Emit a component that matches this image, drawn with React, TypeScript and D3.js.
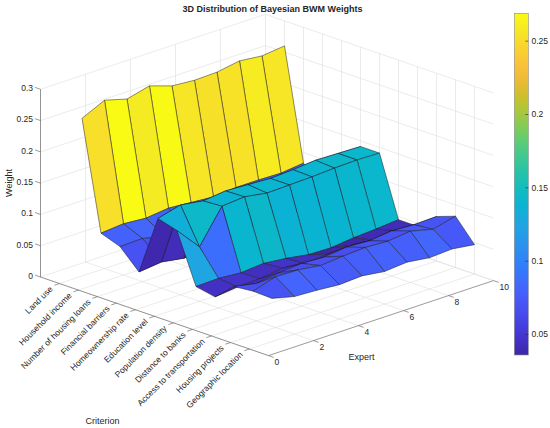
import React from 'react';
import * as d3 from 'd3';

// criteria along one floor axis, experts along the other
const criteria = [
  'Land use',
  'Household income',
  'Number of housing loans',
  'Financial barriers',
  'Homeownership rate',
  'Education level',
  'Population density',
  'Distance to banks',
  'Access to transportation',
  'Housing projects',
  'Geographic location',
];
const experts = [1, 2, 3, 4, 5, 6, 7, 8, 9, 10];

// weight of each criterion, one value per expert (1..10)
const landUse = [0.252, 0.269, 0.259, 0.268, 0.256, 0.253, 0.254, 0.26, 0.256, 0.26];
const householdIncome = [0.079, 0.082, 0.079, 0.083, 0.08, 0.077, 0.08, 0.08, 0.079, 0.083];
const housingLoans = [0.068, 0.069, 0.06, 0.055, 0.05, 0.045, 0.04, 0.04, 0.045, 0.05];
const financialBarriers = [0.038, 0.042, 0.036, 0.04, 0.045, 0.05, 0.055, 0.05, 0.045, 0.04];
const homeownership = [0.134, 0.1435, 0.138, 0.142, 0.14, 0.138, 0.14, 0.143, 0.142, 0.141];
const education = [0.125, 0.087, 0.14, 0.143, 0.137, 0.138, 0.139, 0.141, 0.142, 0.141];
const populationDensity = [0.046, 0.047, 0.044, 0.047, 0.043, 0.037, 0.036, 0.04, 0.042, 0.045];
const distanceBanks = [0.04, 0.044, 0.045, 0.05, 0.045, 0.048, 0.05, 0.047, 0.05, 0.045];
const transportation = [0.067, 0.06, 0.065, 0.068, 0.066, 0.07, 0.068, 0.072, 0.07, 0.071];
const housingProjects = [0.07, 0.081, 0.08, 0.075, 0.078, 0.08, 0.078, 0.082, 0.073, 0.082];
const geoLocation = [0.069, 0.06, 0.058, 0.055, 0.057, 0.052, 0.055, 0.05, 0.052, 0.047];

const expertTicks = [0, 2, 4, 6, 8, 10];
const weightTicks = [0, 0.05, 0.1, 0.15, 0.2, 0.25, 0.3];
const colorbarTicks = [0.05, 0.1, 0.15, 0.2, 0.25];

// parula (sampled)
const parula = [
  [0.2422, 0.1504, 0.6603], [0.2706, 0.2147, 0.8364], [0.2813, 0.3006, 0.9414],
  [0.2699, 0.3892, 0.9906], [0.1963, 0.4847, 0.9892], [0.1687, 0.5703, 0.9359],
  [0.1248, 0.6459, 0.8883], [0.0297, 0.7082, 0.8163], [0.0964, 0.75, 0.712],
  [0.2161, 0.7843, 0.5923], [0.3909, 0.8029, 0.4354], [0.6174, 0.7876, 0.2612],
  [0.8203, 0.7498, 0.1535], [0.9728, 0.7298, 0.2394], [0.9892, 0.8136, 0.1885],
  [0.9597, 0.9135, 0.1423], [0.9769, 0.9839, 0.0805],
];
const parulaPos = [0, 4, 8, 12, 16, 20, 24, 28, 32, 36, 40, 44, 48, 52, 56, 60, 63].map((i) => i / 63);

const FONT = '"Liberation Sans", Arial, Helvetica, sans-serif';
const TXT = '#262626';

export default function App() {
  const weights = [
    landUse, householdIncome, housingLoans, financialBarriers, homeownership, education,
    populationDensity, distanceBanks, transportation, housingProjects, geoLocation,
  ];
  const all = weights.flat();
  const vmin = d3.min(all) as number;
  const vmax = d3.max(all) as number;

  const colorScale = d3
    .scaleLinear<string>()
    .domain(parulaPos.map((p) => vmin + p * (vmax - vmin)))
    .range(parula.map((c) => d3.rgb(c[0] * 255, c[1] * 255, c[2] * 255).formatHex()))
    .interpolate(d3.interpolateRgb);

  // orthographic projection of the 3D box
  const origin = [40.5, 277];
  const cX = d3.scaleLinear().domain([0, 12]).range([0, 228]);
  const cY = d3.scaleLinear().domain([0, 12]).range([0, 78.6]);
  const eX = d3.scaleLinear().domain([0, 10]).range([0, 225]);
  const eY = d3.scaleLinear().domain([0, 10]).range([0, -75]);
  const zY = d3.scaleLinear().domain([0, 0.3]).range([0, -187.7]);
  const proj = (c: number, e: number, z: number): [number, number] => [
    origin[0] + cX(c) + eX(e),
    origin[1] + cY(c) + eY(e) + zY(z),
  ];
  const line = d3.line();
  const seg = (a: [number, number], b: [number, number]) => line([a, b]) as string;

  // grid lines on the floor and back walls
  const grid: string[] = [];
  criteria.forEach((_, i) => {
    grid.push(seg(proj(i + 1, 0, 0), proj(i + 1, 10, 0)));
    grid.push(seg(proj(i + 1, 10, 0), proj(i + 1, 10, 0.3)));
  });
  expertTicks.forEach((e) => {
    grid.push(seg(proj(0, e, 0), proj(12, e, 0)));
    grid.push(seg(proj(0, e, 0), proj(0, e, 0.3)));
  });
  weightTicks.forEach((z) => {
    grid.push(seg(proj(0, 0, z), proj(0, 10, z)));
    grid.push(seg(proj(0, 10, z), proj(12, 10, z)));
  });

  // surface faces, painted back to front
  const faces: any[] = [];
  for (let i = 0; i < criteria.length - 1; i++) {
    for (let j = experts.length - 2; j >= 0; j--) {
      const pts = [
        proj(i + 1, experts[j], weights[i][j]),
        proj(i + 2, experts[j], weights[i + 1][j]),
        proj(i + 2, experts[j + 1], weights[i + 1][j + 1]),
        proj(i + 1, experts[j + 1], weights[i][j + 1]),
      ];
      faces.push({ key: `${i}-${j}`, d: line(pts as any) + 'Z', fill: colorScale(weights[i][j]) });
    }
  }

  // colorbar
  const cb = { x: 514.3, w: 14, top: 13.3, bottom: 355 };
  const cbScale = d3.scaleLinear().domain([vmin, vmax]).range([cb.bottom, cb.top]);
  const gradStops = d3.range(0, 1.0001, 1 / 32);

  const axisCol = '#6e6e6e';
  const zTickDir = [-5.4, -1.9];
  const cTickDir = [-5.2, 1.7];
  const eTickDir = [5.2, 1.8];

  return (
    <svg width={550} height={428} style={{ position: 'absolute', left: 0, top: 0, background: '#fff' }} fontFamily={FONT}>
      <defs>
        <linearGradient id="cbGrad" x1="0" x2="0" y1="1" y2="0">
          {gradStops.map((t) => (
            <stop key={t} offset={`${t * 100}%`} stopColor={colorScale(vmin + t * (vmax - vmin))} />
          ))}
        </linearGradient>
      </defs>
      <rect width={550} height={428} fill="#fff" />

      <g className="grid" stroke="#dedede" strokeWidth={0.6} fill="none">
        {grid.map((d, k) => <path key={k} d={d} />)}
      </g>

      <g className="axes" stroke={axisCol} strokeWidth={0.7} fill="none">
        <path d={seg(proj(0, 0, 0), proj(0, 0, 0.3))} />
        <path d={seg(proj(0, 0, 0), proj(12, 0, 0))} />
        <path d={seg(proj(12, 0, 0), proj(12, 10, 0))} />
        {weightTicks.map((z) => {
          const p = proj(0, 0, z);
          return <path key={z} d={seg(p, [p[0] + zTickDir[0], p[1] + zTickDir[1]])} />;
        })}
        {criteria.map((_, i) => {
          const p = proj(i + 1, 0, 0);
          return <path key={i} d={seg(p, [p[0] + cTickDir[0], p[1] + cTickDir[1]])} />;
        })}
        {expertTicks.map((e) => {
          const p = proj(12, e, 0);
          return <path key={e} d={seg(p, [p[0] + eTickDir[0], p[1] + eTickDir[1]])} />;
        })}
      </g>

      <g className="surface" stroke="#1c1c1c" strokeWidth={0.5} strokeLinejoin="round">
        {faces.map((f) => <path key={f.key} d={f.d} fill={f.fill} />)}
      </g>

      <g fontSize={8.5} fill={TXT}>
        {weightTicks.map((z) => {
          const p = proj(0, 0, z);
          return (
            <text key={z} x={33} y={p[1] - 1.2} textAnchor="end" dominantBaseline="central">
              {String(z)}
            </text>
          );
        })}
        {criteria.map((name, i) => {
          const p = proj(i + 1, 0, 0);
          const x = p[0] - 8.3;
          const y = p[1] + 4;
          return (
            <text key={name} x={x} y={y} textAnchor="end" dominantBaseline="central" transform={`rotate(-45 ${x} ${y})`}>
              {name}
            </text>
          );
        })}
        {expertTicks.map((e) => {
          const p = proj(12, e, 0);
          return (
            <text key={e} x={p[0] + 6} y={p[1] + 6.6} textAnchor="start" dominantBaseline="central">
              {String(e)}
            </text>
          );
        })}
      </g>

      <g fontSize={9} fill={TXT}>
        <text x={8.5} y={183} textAnchor="middle" dominantBaseline="central" transform="rotate(-90 8.5 183)">
          Weight
        </text>
        <text x={102.5} y={421} textAnchor="middle" dominantBaseline="central">Criterion</text>
        <text x={361.5} y={357} textAnchor="middle" dominantBaseline="central">Expert</text>
        <text x={272.5} y={8.6} textAnchor="middle" dominantBaseline="central" fontWeight="bold">
          3D Distribution of Bayesian BWM Weights
        </text>
      </g>

      <g className="colorbar">
        <rect x={cb.x} y={cb.top} width={cb.w} height={cb.bottom - cb.top} fill="url(#cbGrad)" stroke="#8c8c8c" strokeWidth={0.6} />
        {colorbarTicks.map((v) => (
          <g key={v}>
            <line x1={cb.x + cb.w - 3} x2={cb.x + cb.w} y1={cbScale(v)} y2={cbScale(v)} stroke={TXT} strokeWidth={0.6} />
            <text x={531.5} y={cbScale(v)} fontSize={8.5} fill={TXT} dominantBaseline="central">
              {String(v)}
            </text>
          </g>
        ))}
      </g>
    </svg>
  );
}
